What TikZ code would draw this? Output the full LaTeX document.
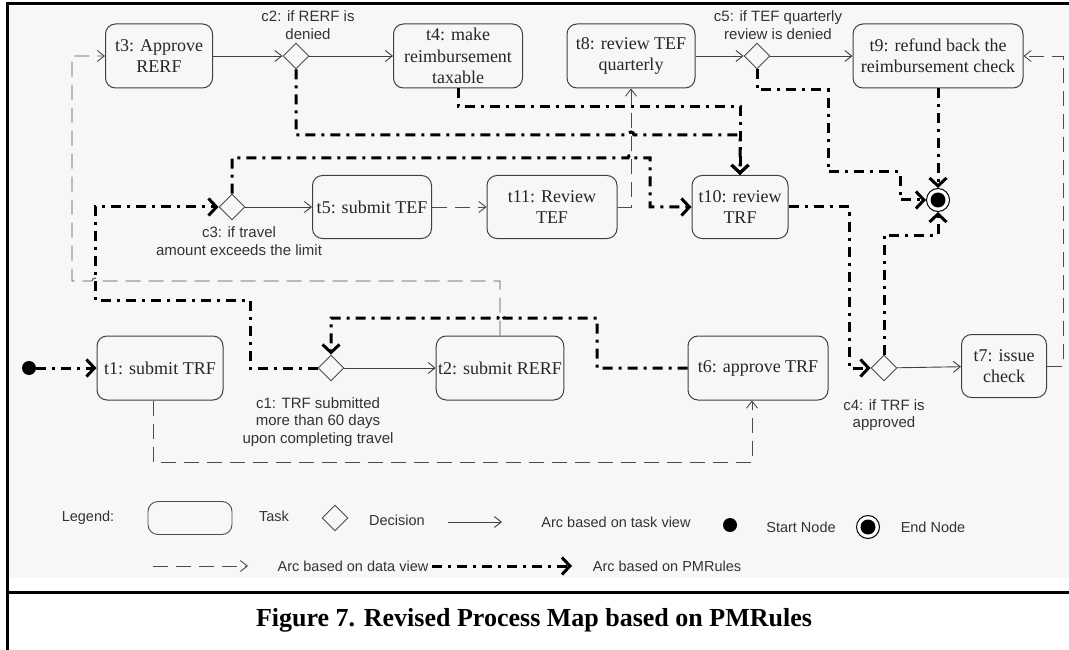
\documentclass[tikz,border=0pt]{standalone}
\usepackage{fontspec}
\setmainfont{Liberation Serif}
\setsansfont{Liberation Sans}
\usetikzlibrary{shapes,shapes.geometric,arrows,arrows.meta,positioning,calc}

\tikzset{
  task/.style={draw=black!75, line width=1pt, rounded corners=10pt, minimum height=64pt,
    align=center, inner sep=2pt, text=black!85, font=\fontsize{18}{21.5}\selectfont},
  decision/.style={draw=black!70, line width=0.9pt, diamond, minimum size=26pt, inner sep=0pt},
  cond/.style={align=center, text=black!80, font=\sffamily\fontsize{15}{17.5}\selectfont},
  legend/.style={text=black!80, font=\sffamily\fontsize{14.5}{17}\selectfont},
  startnode/.style={circle, fill=black, minimum size=14pt, inner sep=0pt},
  endnode/.style={circle, draw=black, line width=1pt, minimum size=23pt, inner sep=0pt, fill=white,
    path picture={\fill[black] (path picture bounding box.center) circle (7.5pt);}},
  taskarc/.style={-{Straight Barb[length=7pt,width=11pt]}, draw=black!75, line width=0.9pt},
  dataarc/.style={-{Straight Barb[length=7pt,width=11pt]}, draw=black!70, line width=0.9pt,
    dash pattern=on 15pt off 8pt},
  rulearc/.style={-{Straight Barb[length=8pt,width=17pt]}, draw=black, line width=3pt,
    dash pattern=on 10pt off 6pt on 3pt off 6pt},
}

\begin{document}
\begin{tikzpicture}[x=1pt,y=-1pt]
\useasboundingbox (0,0) rectangle (1069,650);
\fill[black!3] (9,6) rectangle (1069,578);
\draw[line width=3pt] (7,650) -- (7,4) -- (1069,4);
\draw[line width=3pt] (7,592) -- (1069,592);

\node[task, minimum width=107pt] (t3) at (159,56) {t3: Approve\\RERF};
\node[decision] (c2) at (296,56) {};
\node[cond] (c2lbl) at (308,25) {c2: if RERF is\\denied};
\node[task, minimum width=129pt] (t4) at (458,56) {t4: make\\reimbursement\\taxable};
\node[task, minimum width=128pt] (t8) at (631,56) {t8: review TEF\\quarterly};
\node[decision] (c5) at (757,56) {};
\node[cond] (c5lbl) at (778,25) {c5: if TEF quarterly\\review is denied};
\node[task, minimum width=170pt] (t9) at (938,56) {t9: refund back the\\reimbursement check};

\node[decision] (c3) at (232,207) {};
\node[cond] (c3lbl) at (239,241) {c3: if travel\\amount exceeds the limit};
\node[task, minimum width=119pt, minimum height=63pt] (t5) at (372,207) {t5: submit TEF};
\node[task, minimum width=130pt, minimum height=63pt] (t11) at (552,207) {t11: Review\\TEF};
\node[task, minimum width=96pt, minimum height=63pt] (t10) at (740,207) {t10: review\\TRF};
\node[endnode] (end) at (938,200) {};

\node[startnode] (start) at (29,368) {};
\node[task, minimum width=126pt] (t1) at (160,368) {t1: submit TRF};
\node[decision] (c1) at (331,368) {};
\node[cond] (c1lbl) at (318,422) {c1: TRF submitted\\more than 60 days\\upon completing travel};
\node[task, minimum width=127pt] (t2) at (500,368) {t2: submit RERF};
\node[task, minimum width=140pt] (t6) at (758,368) {t6: approve TRF};
\node[decision] (c4) at (884,368) {};
\node[cond] (c4lbl) at (884,415) {c4: if TRF is\\approved};
\node[task, minimum width=85pt, minimum height=63pt] (t7) at (1004,366) {t7: issue\\check};

\draw[taskarc] (t3) -- (c2);
\draw[taskarc] (c2) -- (t4);
\draw[taskarc] (t8) -- (c5);
\draw[taskarc] (c5) -- (t9);
\draw[taskarc] (c3) -- (t5);
\draw[taskarc] (c1) -- (t2);
\draw[taskarc] (c4) -- (t7);

\draw[dataarc] (t5) -- (t11);
\draw[dataarc] (t11.east) -| (t8.south);
\draw[dataarc] (t7.east) -- (1063,366) |- (t9.east);
\draw[dataarc] (t2.north) |- (98,281) arc[start angle=0,end angle=-180,radius=3] -- (72,281) |- (t3.west);
\draw[dataarc] ([xshift=-7pt]t1.south) |- (752,462) -- ([xshift=-6pt]t6.south);

\draw[rulearc] (start) -- (t1);
\draw[rulearc] (c1.west) -| (250,300) -| (95,207) -- (c3.west);
\draw[rulearc] (t6.west) -| (597,318) -- (504,318) arc[start angle=0,end angle=-180,radius=3] -- (331,318) -- (c1.north);
\draw[rulearc] (c3.north) |- (628,158) arc[start angle=-180,end angle=0,radius=3] -| (650,207) -- (t10.west);
\draw[rulearc] (c2.south) |- (628,135) arc[start angle=-180,end angle=0,radius=3] -| (t10.north);
\draw[rulearc] (t4.south) |- (740,107) -- (t10.north);
\draw[rulearc] (c5.south) |- (828,90) |- (900,172) |- (end.west);
\draw[rulearc] (t9.south) -- (end.north);
\draw[rulearc] (t10.east) -| (849,368) -- (c4.west);
\draw[rulearc] (c4.north) |- (938,235) -- (end.south);

\node[legend] (lgd) at (88,518) {Legend:};
\node[draw=black!70, line width=0.9pt, rounded corners=10pt, minimum width=84pt, minimum height=33pt] (lgtask) at (190,518) {};
\node[legend] (lgtasktxt) at (274,516) {Task};
\node[decision] (lgdec) at (335,518) {};
\node[legend] (lgdectxt) at (397,520) {Decision};
\coordinate (lta) at (448,522);
\coordinate (ltb) at (502,522);
\draw[taskarc] (lta) -- (ltb);
\node[legend] (lgtasktxt) at (616,522) {Arc based on task view};
\node[startnode] (lgstart) at (730,525) {};
\node[legend] (lgstarttxt) at (801,527) {Start Node};
\node[endnode] (lgend) at (868,527) {};
\node[legend] (lgendtxt) at (933,527) {End Node};
\coordinate (lda) at (153,566);
\coordinate (ldb) at (248,566);
\draw[dataarc] (lda) -- (ldb);
\node[legend] (lgdatatxt) at (353,566) {Arc based on data view};
\coordinate (lra) at (432,566);
\coordinate (lrb) at (572,566);
\draw[rulearc] (lra) -- (lrb);
\node[legend] (lgruletxt) at (667,566) {Arc based on PMRules};

\node[font=\bfseries\fontsize{26}{30}\selectfont] (caption) at (534,620) {Figure 7. Revised Process Map based on PMRules};
\end{tikzpicture}
\end{document}
